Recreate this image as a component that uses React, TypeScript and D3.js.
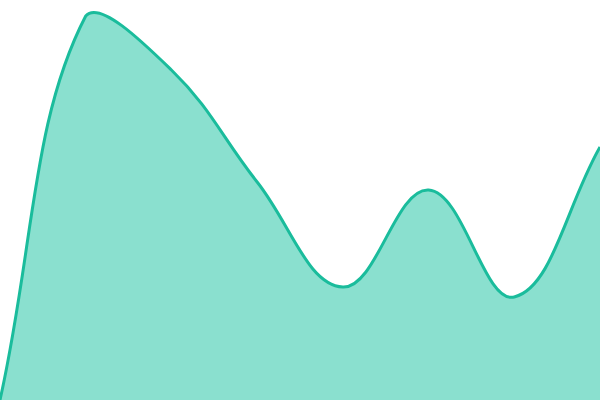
import * as d3 from 'd3';
import React from 'react';

// values, evenly spaced along x
const labels = ['a', 'b', 'c', 'd', 'e', 'f', 'g', 'h'];
const values = [0, 96, 82.5, 54.5, 28.25, 52.5, 25.75, 63.25];

const width = 600;
const height = 400;
const tension = 0.4;

// spline with tension and control points kept inside the plot box
const splinePath = (pts: [number, number][], closeToBottom: boolean) => {
  const clampX = (v: number) => Math.max(0, Math.min(width, v));
  const clampY = (v: number) => Math.max(0, Math.min(height, v));
  const cps = pts.map((cur, i) => {
    const prev = pts[i - 1] || cur;
    const next = pts[i + 1] || cur;
    const d01 = Math.hypot(cur[0] - prev[0], cur[1] - prev[1]);
    const d12 = Math.hypot(next[0] - cur[0], next[1] - cur[1]);
    const sum = d01 + d12 || 1;
    const fa = (tension * d01) / sum;
    const fb = (tension * d12) / sum;
    const dx = next[0] - prev[0];
    const dy = next[1] - prev[1];
    return {
      before: [clampX(cur[0] - fa * dx), clampY(cur[1] - fa * dy)],
      after: [clampX(cur[0] + fb * dx), clampY(cur[1] + fb * dy)]
    };
  });
  const p = d3.path();
  p.moveTo(pts[0][0], pts[0][1]);
  for (let i = 1; i < pts.length; i++) {
    const a = cps[i - 1].after;
    const b = cps[i].before;
    p.bezierCurveTo(a[0], a[1], b[0], b[1], pts[i][0], pts[i][1]);
  }
  if (closeToBottom) {
    p.lineTo(pts[pts.length - 1][0], height);
    p.lineTo(pts[0][0], height);
    p.closePath();
  }
  return p.toString();
};

export default function App() {
  const x = d3
    .scalePoint<string>()
    .domain(labels)
    .range([0, width]);
  const y = d3.scaleLinear().domain([0, 100]).range([height, 0]);

  const pts = values.map(
    (v, i) => [x(labels[i]) as number, y(v)] as [number, number]
  );

  return (
    <div style={{ position: 'fixed', left: 0, top: 0 }}>
      <svg width={width} height={height} style={{ display: 'block' }}>
        <path d={splinePath(pts, true)} fill="#8ae0cf" />
        <path
          d={splinePath(pts, false)}
          fill="none"
          stroke="#1abc9c"
          strokeWidth={3}
        />
      </svg>
    </div>
  );
}
